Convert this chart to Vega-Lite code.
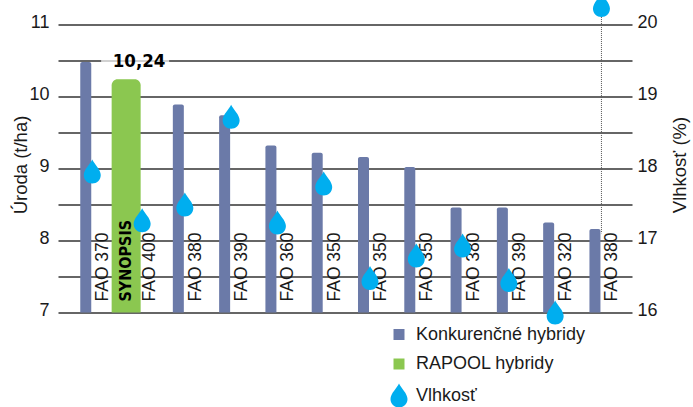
{
"$schema":"https://vega.github.io/schema/vega-lite/v6.json",
"width":574,"height":288,
"autosize":{"type":"none"},
"padding":{"left":58,"top":24.5,"right":61,"bottom":94.5},
"background":"white",
"config":{"view":{"stroke":null},"font":"Liberation Sans"},
"datasets":{
"hybridy":[
{"poradie":1,"fao":"FAO 370","uroda":10.48,"skupina":"Konkurenčné hybridy"},
{"poradie":2,"fao":"FAO 400","uroda":10.24,"skupina":"RAPOOL hybridy"},
{"poradie":3,"fao":"FAO 380","uroda":9.89,"skupina":"Konkurenčné hybridy"},
{"poradie":4,"fao":"FAO 390","uroda":9.74,"skupina":"Konkurenčné hybridy"},
{"poradie":5,"fao":"FAO 360","uroda":9.32,"skupina":"Konkurenčné hybridy"},
{"poradie":6,"fao":"FAO 350","uroda":9.22,"skupina":"Konkurenčné hybridy"},
{"poradie":7,"fao":"FAO 350","uroda":9.16,"skupina":"Konkurenčné hybridy"},
{"poradie":8,"fao":"FAO 350","uroda":9.02,"skupina":"Konkurenčné hybridy"},
{"poradie":9,"fao":"FAO 380","uroda":8.46,"skupina":"Konkurenčné hybridy"},
{"poradie":10,"fao":"FAO 390","uroda":8.46,"skupina":"Konkurenčné hybridy"},
{"poradie":11,"fao":"FAO 320","uroda":8.25,"skupina":"Konkurenčné hybridy"},
{"poradie":12,"fao":"FAO 380","uroda":8.16,"skupina":"Konkurenčné hybridy"}
],
"vlhkost":[
{"poradie":1,"vlhkost":17.96,"skupina":"Vlhkosť"},
{"poradie":2,"vlhkost":17.28,"skupina":"Vlhkosť"},
{"poradie":3,"vlhkost":17.5,"skupina":"Vlhkosť"},
{"poradie":4,"vlhkost":18.72,"skupina":"Vlhkosť"},
{"poradie":5,"vlhkost":17.25,"skupina":"Vlhkosť"},
{"poradie":6,"vlhkost":17.79,"skupina":"Vlhkosť"},
{"poradie":7,"vlhkost":16.48,"skupina":"Vlhkosť"},
{"poradie":8,"vlhkost":16.79,"skupina":"Vlhkosť"},
{"poradie":9,"vlhkost":16.93,"skupina":"Vlhkosť"},
{"poradie":10,"vlhkost":16.45,"skupina":"Vlhkosť"},
{"poradie":11,"vlhkost":16.0,"skupina":"Vlhkosť"},
{"poradie":12,"vlhkost":20.27,"skupina":"Vlhkosť"}
]
},
"encoding":{
"x":{"field":"poradie","type":"ordinal","axis":null,"sort":null,"scale":{"domain":[1,2,3,4,5,6,7,8,9,10,11,12],"paddingInner":0,"paddingOuter":0.2,"align":0.6}}
},
"layer":[
{"data":{"name":"hybridy"},
 "transform":[{"filter":"datum.poradie===2"}],
 "mark":{"type":"tick","color":"white","size":68,"thickness":5,"xOffset":-3.4,"yOffset":-18.5},
 "encoding":{"y":{"field":"uroda","type":"quantitative","scale":{"domain":[7,11]},
   "axis":{"orient":"left","values":[7,7.5,8,8.5,9,9.5,10,10.5,11],"labelExpr":"datum.value%1?'':datum.value","grid":true,"gridColor":"#333333","gridWidth":1.6,"gridOpacity":1,"ticks":false,"domain":false,"labelFontSize":18,"labelColor":"#1a1a1a","labelPadding":9,"labelOffset":-2,"title":"Úroda (t/ha)","titleFontSize":18.5,"titleFontWeight":"normal","titleColor":"#1a1a1a","titlePadding":-2,"titleY":140}}}},
{"data":{"name":"hybridy"},
 "transform":[{"filter":"datum.poradie!==2"}],
 "mark":{"type":"bar","width":11,"xOffset":-6.5,"cornerRadiusTopLeft":2,"cornerRadiusTopRight":2},
 "encoding":{
  "y":{"field":"uroda","type":"quantitative","scale":{"domain":[7,11]},"axis":null},
  "y2":{"datum":7},
  "color":{"field":"skupina","type":"nominal","scale":{"domain":["Konkurenčné hybridy","RAPOOL hybridy","Vlhkosť"],"range":["#6b7aa8","#8bc750","#00aeef"]}}}},
{"data":{"name":"hybridy"},
 "transform":[{"filter":"datum.poradie===2"}],
 "mark":{"type":"bar","width":29,"xOffset":-12.4,"cornerRadiusTopLeft":6,"cornerRadiusTopRight":6},
 "encoding":{
  "y":{"field":"uroda","type":"quantitative","scale":{"domain":[7,11]},"axis":null},
  "y2":{"datum":7},
  "color":{"field":"skupina","type":"nominal"}}},
{"data":{"name":"hybridy"},
 "mark":{"type":"text","angle":270,"align":"left","baseline":"middle","xOffset":11,"yOffset":-11,"fontSize":17.5,"color":"#1a1a1a"},
 "encoding":{"y":{"datum":7,"scale":{"domain":[7,11]},"axis":null},"text":{"field":"fao"}}},
{"data":{"name":"hybridy"},
 "transform":[{"filter":"datum.poradie===2"},{"calculate":"'SYNOPSIS'","as":"nazov"}],
 "mark":{"type":"text","angle":270,"align":"left","baseline":"middle","xOffset":-12.4,"yOffset":-11,"fontSize":16,"fontWeight":"bold","font":"DejaVu Sans Condensed","color":"#000000"},
 "encoding":{"y":{"datum":7,"scale":{"domain":[7,11]},"axis":null},"text":{"field":"nazov"}}},
{"data":{"name":"hybridy"},
 "transform":[{"filter":"datum.poradie===2"},{"calculate":"'10,24'","as":"popis"}],
 "mark":{"type":"text","align":"center","baseline":"middle","xOffset":0.5,"yOffset":-18.5,"fontSize":18.5,"fontWeight":"bold","font":"DejaVu Sans Condensed","color":"#000000"},
 "encoding":{"y":{"field":"uroda","type":"quantitative","scale":{"domain":[7,11]},"axis":null},"text":{"field":"popis"}}},
{"data":{"name":"vlhkost"},
 "transform":[{"filter":"datum.poradie===12"}],
 "mark":{"type":"rule","color":"#555555","strokeWidth":1,"strokeDash":[1,1]},
 "encoding":{"y":{"field":"vlhkost","type":"quantitative","scale":{"domain":[16,20]},"axis":null},"y2":{"datum":17.1}}},
{"data":{"name":"vlhkost"},
 "transform":[{"filter":"datum.poradie!==2"}],
 "mark":{"type":"point","filled":true,"size":400,"opacity":1,"strokeWidth":0},
 "encoding":{
  "y":{"field":"vlhkost","type":"quantitative","scale":{"domain":[16,20]},
    "axis":{"orient":"right","values":[16,17,18,19,20],"grid":false,"ticks":false,"domain":false,"labelFontSize":18,"labelColor":"#1a1a1a","labelPadding":5,"labelOffset":-2,"title":"Vlhkosť (%)","titleAngle":270,"titleFontSize":18.5,"titleFontWeight":"normal","titleColor":"#1a1a1a","titlePadding":32,"titleY":140}},
  "color":{"field":"skupina","type":"nominal","legend":{"orient":"none","legendX":331,"legendY":300,"title":null,"labelFontSize":18,"labelLimit":300,"labelColor":"#1a1a1a","symbolStrokeWidth":0,"symbolSize":400,"rowPadding":10.5,"labelOffset":7,"values":["Konkurenčné hybridy","RAPOOL hybridy","Vlhkosť"]}},
  "shape":{"field":"skupina","type":"nominal","scale":{"domain":["Konkurenčné hybridy","RAPOOL hybridy","Vlhkosť"],"range":["M-0.55,-0.55H0.55V0.55H-0.55Z","M-0.55,-0.55H0.55V0.55H-0.55Z","M0,-1.2C0.2,-0.75 0.85,-0.2 0.85,0.35C0.85,0.85 0.45,1.2 0,1.2C-0.45,1.2 -0.85,0.85 -0.85,0.35C-0.85,-0.2 -0.2,-0.75 0,-1.2Z"]},"legend":{"orient":"none","legendX":331,"legendY":300,"title":null,"labelFontSize":18,"labelLimit":300,"labelColor":"#1a1a1a","symbolStrokeWidth":0,"symbolSize":400,"rowPadding":10.5,"labelOffset":7,"values":["Konkurenčné hybridy","RAPOOL hybridy","Vlhkosť"]}}}},
{"data":{"name":"vlhkost"},
 "transform":[{"filter":"datum.poradie===2"}],
 "mark":{"type":"point","filled":true,"size":400,"opacity":1,"strokeWidth":0,"xOffset":3.6},
 "encoding":{
  "y":{"field":"vlhkost","type":"quantitative","scale":{"domain":[16,20]},"axis":null},
  "color":{"field":"skupina","type":"nominal"},
  "shape":{"field":"skupina","type":"nominal"}}}
],
"resolve":{"scale":{"y":"independent"}}
}
